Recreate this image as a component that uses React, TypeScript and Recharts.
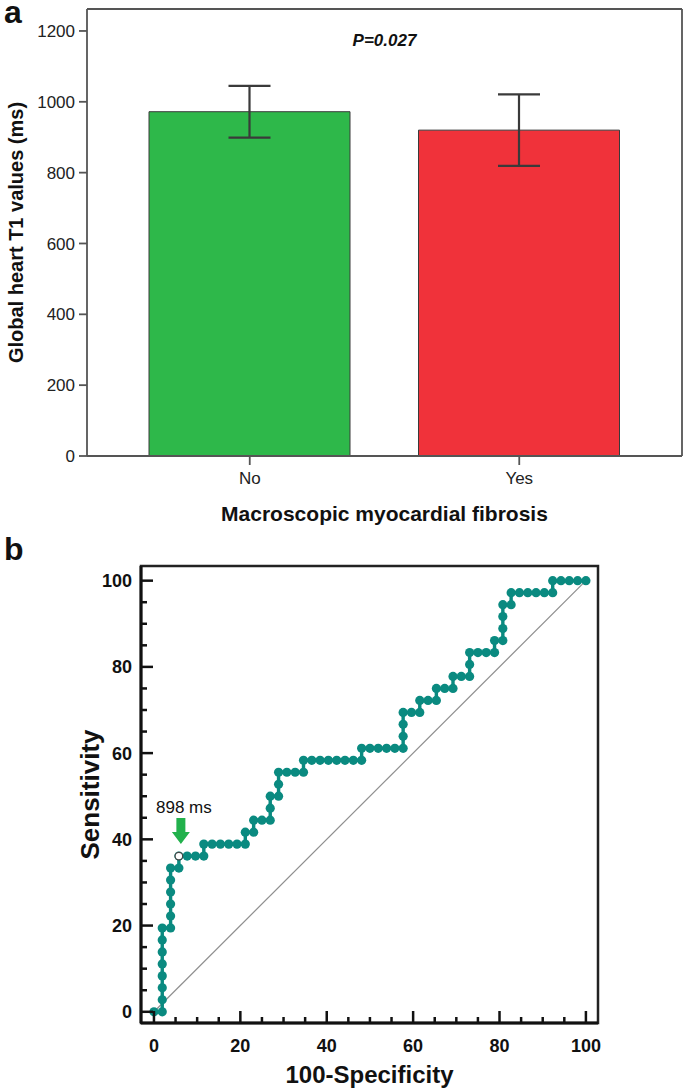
import React from 'react';
import {
  BarChart,
  Bar,
  XAxis,
  YAxis,
  ErrorBar,
  Cell,
  LineChart,
  Line,
  ReferenceLine,
  ReferenceDot,
  ReferenceArea,
  Label,
} from 'recharts';

const FONT = "'Liberation Sans', Arial, Helvetica, sans-serif";

// ---- Panel a: bar chart ----
const groups = ['No', 'Yes'];
const t1Means = [972, 920];
const t1Errors = [73, 101];
const barColors = ['#2eb84a', '#f0323a'];
const t1Ticks = [0, 200, 400, 600, 800, 1000, 1200];
const t1Domain = [0, 1262];
const pValueText = 'P=0.027';

// ---- Panel b: ROC curve ----
const rocFpr = [
  0, 1.92, 1.92, 1.92, 1.92, 1.92, 1.92, 1.92, 1.92,
  3.85, 3.85, 3.85, 3.85, 3.85, 3.85,
  5.77, 5.77, 7.69, 9.62, 11.54, 11.54,
  13.46, 15.38, 17.31, 19.23, 21.15, 21.15,
  23.08, 23.08, 25.0, 26.92, 26.92, 26.92,
  28.85, 28.85, 28.85, 30.77, 32.69, 34.62, 34.62,
  36.54, 38.46, 40.38, 42.31, 44.23, 46.15, 48.08, 48.08,
  50.0, 51.92, 53.85, 55.77, 57.69, 57.69, 57.69, 57.69,
  59.62, 61.54, 61.54, 63.46, 65.38, 65.38, 67.31, 69.23, 69.23,
  71.15, 73.08, 73.08, 73.08, 75.0, 76.92, 78.85, 78.85,
  80.77, 80.77, 80.77, 80.77, 82.69, 82.69,
  84.62, 86.54, 88.46, 90.38, 92.31, 92.31,
  94.23, 96.15, 98.08, 100,
];
const rocTpr = [
  0, 0, 2.78, 5.56, 8.33, 11.11, 13.89, 16.67, 19.44,
  19.44, 22.22, 25.0, 27.78, 30.56, 33.33,
  33.33, 36.11, 36.11, 36.11, 36.11, 38.89,
  38.89, 38.89, 38.89, 38.89, 38.89, 41.67,
  41.67, 44.44, 44.44, 44.44, 47.22, 50.0,
  50.0, 52.78, 55.56, 55.56, 55.56, 55.56, 58.33,
  58.33, 58.33, 58.33, 58.33, 58.33, 58.33, 58.33, 61.11,
  61.11, 61.11, 61.11, 61.11, 61.11, 63.89, 66.67, 69.44,
  69.44, 69.44, 72.22, 72.22, 72.22, 75.0, 75.0, 75.0, 77.78,
  77.78, 77.78, 80.56, 83.33, 83.33, 83.33, 83.33, 86.11,
  86.11, 88.89, 91.67, 94.44, 94.44, 97.22,
  97.22, 97.22, 97.22, 97.22, 97.22, 100,
  100, 100, 100, 100,
];
const rocTicks = [0, 5, 10, 15, 20, 25, 30, 35, 40, 45, 50, 55, 60, 65, 70, 75, 80, 85, 90, 95, 100];
const rocMajorTicks = [0, 20, 40, 60, 80, 100];
const rocXDomain = [-3, 102.8];
const rocYDomain = [-2.6, 103.4];
const diagonal = [
  { x: 0, y: 0 },
  { x: 100, y: 100 },
];
const cutoffFpr = 5.77;
const cutoffTpr = 36.11;
const cutoffLabel = '898 ms';

const barData = groups.map((name, i) => ({ name, mean: t1Means[i], err: t1Errors[i] }));
const rocData = rocFpr.map((x, i) => ({ x, y: rocTpr[i] }));

const TEAL = '#0a8a80';
const AXIS_DARK = '#111';
const FRAME_GRAY = '#555';

const RocXTick = (p: any) => {
  const v = p.payload.value;
  const major = rocMajorTicks.includes(v);
  return (
    <g>
      <line x1={p.x} y1={p.y} x2={p.x} y2={p.y - (major ? 12 : 6)} stroke={AXIS_DARK} strokeWidth={2.5} />
      {major && (
        <text x={p.x} y={p.y + 29} textAnchor="middle" fontSize={18} fontWeight="bold" fill={AXIS_DARK} fontFamily={FONT}>
          {v}
        </text>
      )}
    </g>
  );
};

const RocYTick = (p: any) => {
  const v = p.payload.value;
  const major = rocMajorTicks.includes(v);
  return (
    <g>
      <line x1={p.x} y1={p.y} x2={p.x + (major ? 12 : 6)} y2={p.y} stroke={AXIS_DARK} strokeWidth={2.5} />
      {major && (
        <text x={p.x - 9} y={p.y} dy="0.36em" textAnchor="end" fontSize={18} fontWeight="bold" fill={AXIS_DARK} fontFamily={FONT}>
          {v}
        </text>
      )}
    </g>
  );
};

const CutoffMarker = (p: any) => {
  const { cx, cy } = p;
  if (cx == null || cy == null) return null;
  const ax = cx + 2;
  const pts = [
    [ax - 4.5, cy - 38],
    [ax + 4.5, cy - 38],
    [ax + 4.5, cy - 24],
    [ax + 9, cy - 24],
    [ax, cy - 12],
    [ax - 9, cy - 24],
    [ax - 4.5, cy - 24],
  ]
    .map((q) => q.join(','))
    .join(' ');
  return (
    <g>
      <circle cx={cx} cy={cy} r={3.8} fill="#fff" stroke="#444" strokeWidth={1.2} />
      <polygon points={pts} fill="#22b14c" />
      <text x={cx + 5} y={cy - 43} textAnchor="middle" fontSize={17} fill="#111" fontFamily={FONT}>
        {cutoffLabel}
      </text>
    </g>
  );
};

export default function App() {
  return (
    <div style={{ position: 'absolute', left: 0, top: 0, width: 685, height: 1090, background: '#fff', fontFamily: FONT }}>
      <div style={{ position: 'absolute', left: 0, top: 0 }}>
        <BarChart width={685} height={540} data={barData} margin={{ top: 8, right: 2, left: 0, bottom: 0 }}>
          <XAxis
            dataKey="name"
            type="category"
            height={84}
            padding={{ left: 28, right: 28 }}
            interval={0}
            axisLine={{ stroke: FRAME_GRAY, strokeWidth: 1.8 }}
            tickLine={{ stroke: FRAME_GRAY, strokeWidth: 1.8 }}
            tickSize={9}
            tickMargin={7}
            tick={{ fill: '#222', fontSize: 17, fontFamily: FONT }}
          >
            <Label
              content={(props: any) => {
                const vb = props.viewBox || {};
                return (
                  <text x={vb.x + vb.width / 2} y={vb.y + 65} textAnchor="middle" fontSize={21} fontWeight="bold" fill="#111" fontFamily={FONT}>
                    Macroscopic myocardial fibrosis
                  </text>
                );
              }}
            />
          </XAxis>
          <XAxis
            xAxisId="top"
            orientation="top"
            dataKey="name"
            height={1}
            tick={false}
            tickLine={false}
            axisLine={{ stroke: FRAME_GRAY, strokeWidth: 1.8 }}
          >
            <Label
              content={(props: any) => {
                const vb = props.viewBox || {};
                return (
                  <text x={vb.x + vb.width / 2} y={vb.y + 38} textAnchor="middle" fontSize={17} fontWeight="bold" fontStyle="italic" fill="#111" fontFamily={FONT}>
                    {pValueText}
                  </text>
                );
              }}
            />
          </XAxis>
          <YAxis
            type="number"
            width={87}
            domain={t1Domain}
            ticks={t1Ticks}
            interval={0}
            axisLine={{ stroke: FRAME_GRAY, strokeWidth: 1.8 }}
            tickLine={{ stroke: FRAME_GRAY, strokeWidth: 1.8 }}
            tickSize={8}
            tickMargin={4}
            tick={{ fill: '#222', fontSize: 17, fontFamily: FONT }}
          >
            <Label
              content={(props: any) => {
                const vb = props.viewBox || {};
                const x = vb.x + 23;
                const y = vb.y + vb.height / 2;
                return (
                  <text x={x} y={y} transform={`rotate(-90, ${x}, ${y})`} textAnchor="middle" fontSize={20} fontWeight="bold" fill="#111" fontFamily={FONT}>
                    Global heart T1 values (ms)
                  </text>
                );
              }}
            />
          </YAxis>
          <YAxis
            yAxisId="right"
            orientation="right"
            type="number"
            domain={t1Domain}
            width={1}
            tick={false}
            tickLine={false}
            axisLine={{ stroke: FRAME_GRAY, strokeWidth: 1.8 }}
          />
          <Bar dataKey="mean" barSize={201} stroke="#3a3a3a" strokeWidth={1} isAnimationActive={false}>
            {barData.map((d, i) => (
              <Cell key={d.name} fill={barColors[i]} />
            ))}
            <ErrorBar dataKey="err" width={21} stroke="#3a3a3a" strokeWidth={2.2} isAnimationActive={false} />
          </Bar>
        </BarChart>
      </div>

      <div style={{ position: 'absolute', left: 0, top: 540 }}>
        <LineChart width={685} height={550} data={rocData} margin={{ top: 26, right: 87, left: 0, bottom: 0 }}>
          <ReferenceArea
            x1={rocXDomain[0]}
            x2={rocXDomain[1]}
            y1={rocYDomain[0]}
            y2={rocYDomain[1]}
            fill="none"
            fillOpacity={0}
            stroke="#222"
            strokeWidth={2.5}
            strokeOpacity={1}
            ifOverflow="visible"
          />
          <XAxis
            dataKey="x"
            type="number"
            domain={rocXDomain}
            allowDataOverflow
            ticks={rocTicks}
            interval={0}
            height={67}
            tickSize={0}
            tickMargin={0}
            tickLine={false}
            axisLine={{ stroke: AXIS_DARK, strokeWidth: 3 }}
            tick={RocXTick}
          >
            <Label
              content={(props: any) => {
                const vb = props.viewBox || {};
                return (
                  <text x={vb.x + vb.width / 2} y={vb.y + 60} textAnchor="middle" fontSize={24} fontWeight="bold" fill="#111" fontFamily={FONT}>
                    100-Specificity
                  </text>
                );
              }}
            />
          </XAxis>
          <YAxis
            type="number"
            width={141}
            domain={rocYDomain}
            allowDataOverflow
            ticks={rocTicks}
            interval={0}
            tickSize={0}
            tickMargin={0}
            tickLine={false}
            axisLine={{ stroke: AXIS_DARK, strokeWidth: 3 }}
            tick={RocYTick}
          >
            <Label
              content={(props: any) => {
                const vb = props.viewBox || {};
                const x = vb.x + vb.width - 42;
                const y = vb.y + vb.height / 2;
                return (
                  <text x={x} y={y} transform={`rotate(-90, ${x}, ${y})`} textAnchor="middle" fontSize={26} fontWeight="bold" fill="#111" fontFamily={FONT}>
                    Sensitivity
                  </text>
                );
              }}
            />
          </YAxis>
          <ReferenceLine segment={diagonal} stroke="#8f8f8f" strokeWidth={1.2} />
          <Line
            dataKey="y"
            type="linear"
            stroke={TEAL}
            strokeWidth={3.4}
            dot={{ r: 4.6, fill: TEAL, stroke: 'none' }}
            activeDot={false}
            isAnimationActive={false}
          />
          <ReferenceDot x={cutoffFpr} y={cutoffTpr} r={4} shape={CutoffMarker} ifOverflow="visible" />
        </LineChart>
      </div>

      <svg width={685} height={1090} style={{ position: 'absolute', left: 0, top: 0, pointerEvents: 'none' }}>
        <text x={4} y={23} fontSize={32} fontWeight="bold" fill="#111" fontFamily={FONT}>a</text>
        <text x={4} y={560} fontSize={32} fontWeight="bold" fill="#111" fontFamily={FONT}>b</text>
      </svg>
    </div>
  );
}
